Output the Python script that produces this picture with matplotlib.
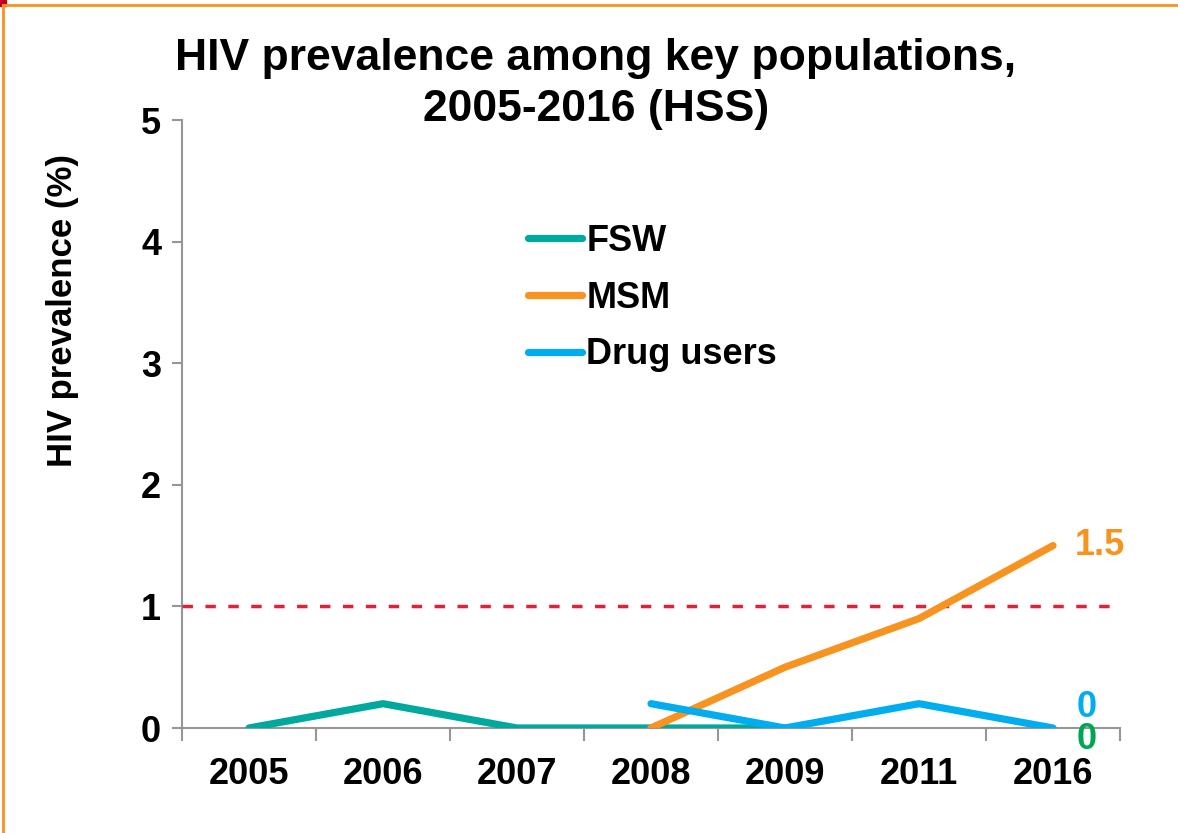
import matplotlib
matplotlib.use('Agg')
import matplotlib.pyplot as plt
import numpy as np

plt.rcParams['font.family'] = ['Liberation Sans', 'DejaVu Sans']
plt.rcParams['font.weight'] = 'bold'

years = ['2005', '2006', '2007', '2008', '2009', '2011', '2016']
fsw = [0, 0.2, 0, 0, 0, np.nan, np.nan]
msm = [np.nan, np.nan, np.nan, 0, 0.5, 0.9, 1.5]
drug_users = [np.nan, np.nan, np.nan, 0.2, 0, 0.2, 0]
threshold = 1

teal = '#00A99D'
orange = '#F7931E'
blue = '#00AEEF'
green = '#00A651'
red = '#E2203A'
grey = '#969696'

fig = plt.figure(figsize=(11.78, 8.33), dpi=100)
ax = fig.add_axes([182 / 1178, 1 - 728 / 833, (1120 - 182) / 1178, (728 - 120) / 833])

x = np.arange(len(years))
lw = 5.2
ax.plot(x, fsw, color=teal, lw=lw, solid_capstyle='round', label='FSW', zorder=3)
ax.plot(x, msm, color=orange, lw=lw, solid_capstyle='round', label='MSM', zorder=4)
ax.plot(x, drug_users, color=blue, lw=lw, solid_capstyle='round', label='Drug users', zorder=5)
ax.axhline(threshold, color=red, lw=2.5, ls=(0, (3, 3.6)), zorder=2)

ax.set_xlim(-0.5, len(years) - 0.5)
ax.set_ylim(0, 5)
ax.set_yticks(range(0, 6))
ax.set_xticks(x)
ax.set_xticklabels(years)
ax.set_xticks(np.arange(-0.5, len(years)), minor=True)
ax.tick_params(axis='x', which='major', length=0, pad=21, labelsize=26)
ax.tick_params(axis='x', which='minor', length=9, width=1.5, color=grey, direction='out')
ax.tick_params(axis='y', length=7, width=1.5, color=grey, labelsize=26, pad=8)
for lab in ax.get_xticklabels() + ax.get_yticklabels():
    lab.set_fontweight('bold')

for s in ['top', 'right']:
    ax.spines[s].set_visible(False)
for s in ['left', 'bottom']:
    ax.spines[s].set_color(grey)
    ax.spines[s].set_linewidth(1.5)
ax.spines['left'].set_zorder(1)

# end labels
ax.annotate('1.5', (6, 1.5), xytext=(16, 0), textcoords='offset points',
            color=orange, fontsize=26, fontweight='bold', va='center', ha='left')
ax.annotate('0', (6, 0), xytext=(17, 15), textcoords='offset points',
            color=blue, fontsize=26, fontweight='bold', va='center', ha='left',
            annotation_clip=False)
ax.annotate('0', (6, 0), xytext=(17, -8), textcoords='offset points',
            color=green, fontsize=26, fontweight='bold', va='center', ha='left',
            annotation_clip=False)

leg = ax.legend(loc='upper left', bbox_to_anchor=(528 / 1178, 1 - 224 / 833),
                bbox_transform=fig.transFigure, frameon=False, fontsize=26,
                handlelength=1.5, handletextpad=0.12, labelspacing=0.6, borderpad=0,
                borderaxespad=0)
for t in leg.get_texts():
    t.set_fontweight('bold')

fig.text(596 / 1178, 1 - 84 / 833, 'HIV prevalence among key populations,\n2005-2016 (HSS)',
         ha='center', va='center', fontsize=32, fontweight='bold', linespacing=1.3)
fig.text(63 / 1178, 1 - 310 / 833, 'HIV prevalence (%)', rotation=90,
         ha='center', va='center', fontsize=25, fontweight='bold')

# orange frame
fig.add_artist(plt.Line2D([3 / 1178, 3 / 1178], [0, 1 - 5 / 833], color=orange, lw=2,
                          transform=fig.transFigure))
fig.add_artist(plt.Line2D([3 / 1178, 1], [1 - 5 / 833, 1 - 5 / 833], color=orange, lw=2,
                          transform=fig.transFigure))
fig.add_artist(plt.Rectangle((0, 1 - 6 / 833), 6 / 1178, 6 / 833, color='#C00020',
                             transform=fig.transFigure))

fig.savefig('out.png', dpi=100)
